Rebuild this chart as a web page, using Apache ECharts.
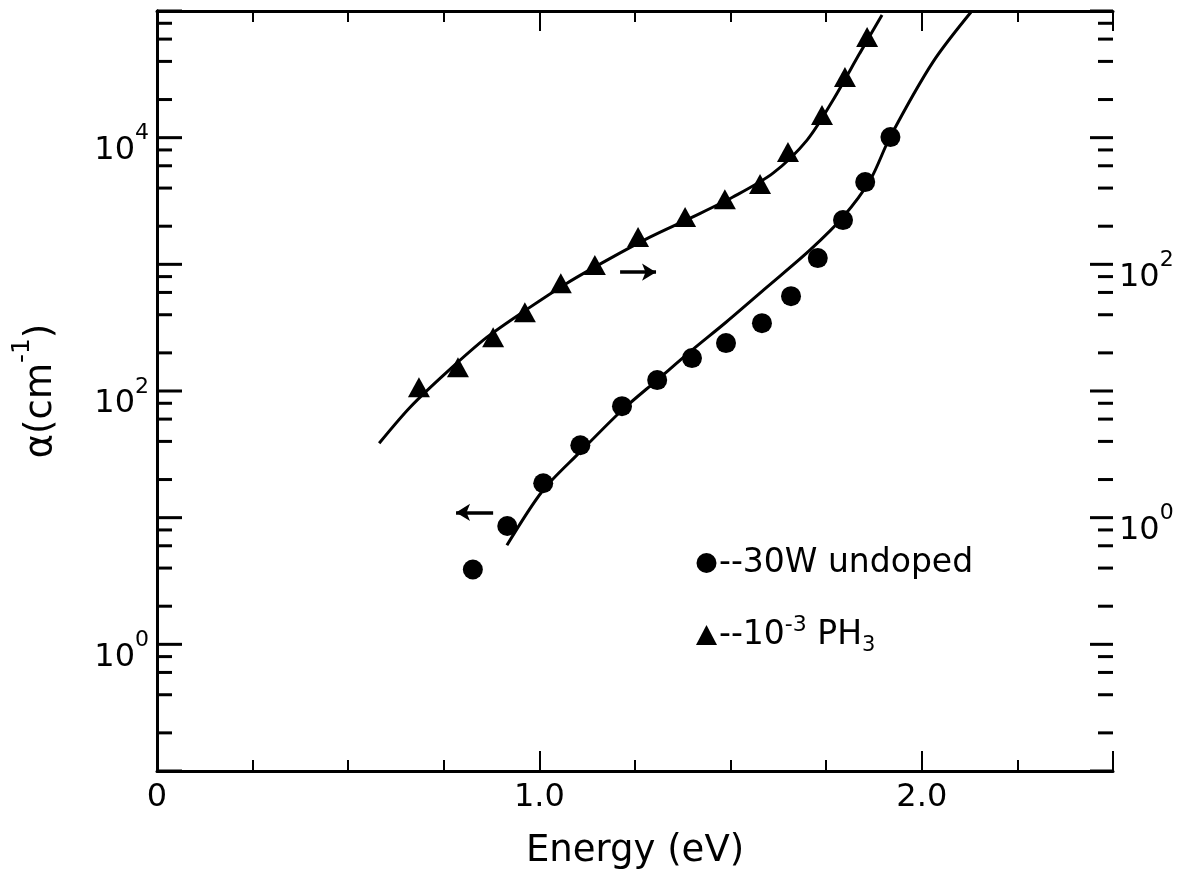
<!DOCTYPE html>
<html>
<head>
<meta charset="utf-8">
<script src="https://cdn.jsdelivr.net/npm/echarts@6/dist/echarts.min.js"></script>
<style>
  html, body { margin: 0; padding: 0; background: #fff; }
  #chart { width: 1180px; height: 882px; }
</style>
</head>
<body>
<div id="chart"></div>
<script>
// ---- Data ----
// 30W undoped (left axis, alpha in cm^-1)
const undopedEnergy = [0.826, 0.916, 1.010, 1.107, 1.216, 1.308, 1.399, 1.488, 1.582, 1.658, 1.728, 1.794, 1.852, 1.918];
const undopedAlpha  = [3.9, 8.6, 18.7, 37.3, 75.9, 122, 182, 239, 343, 561, 1120, 2234, 4460, 10100];
// fitted curve through undoped points
const undopedFitEnergy = [0.915, 1.009, 1.106, 1.216, 1.308, 1.399, 1.488, 1.595, 1.708, 1.794, 1.865, 1.917, 2.029, 2.131];
const undopedFitAlpha  = [6.05, 16.4, 32.9, 70.5, 122, 210, 349, 661, 1300, 2362, 4624, 10100, 39500, 100000];

// 10^-3 PH3 doped (right axis)
const dopedEnergy = [0.685, 0.787, 0.879, 0.962, 1.056, 1.145, 1.258, 1.381, 1.485, 1.577, 1.650, 1.739, 1.799, 1.857];
const dopedAlpha  = [10.7, 15.4, 26.6, 41.9, 71, 98.6, 164, 236, 327, 430, 769, 1510, 3010, 6230];
// fitted curve through doped points
const dopedFitEnergy = [0.581, 0.662, 0.758, 0.863, 0.968, 1.072, 1.177, 1.289, 1.400, 1.506, 1.611, 1.700, 1.768, 1.838, 1.896];
const dopedFitAlpha  = [3.87, 7.45, 14.1, 26.6, 44.3, 71, 108, 164, 236, 340, 525, 957, 1983, 4650, 9300];

// axis-indicator arrows (left-axis data space): [fromE, toE, alpha]
const arrowLeft  = [0.879, 0.782, 11.0];
const arrowRight = [1.211, 1.305, 867];

// tick labels
const xTickLabels = { '0': '0', '1': '1.0', '2': '2.0' };
const leftLabelExps = [0, 2, 4];
const rightLabelExps = [0, 2];
// log ticks on the left-axis scale; the right axis (= left / 10) shares the same positions
const majorTickValues = [0.1, 1, 10, 100, 1000, 10000, 100000];
const minorTickValues = [0.2, 0.4, 0.6, 0.8, 2, 4, 6, 8, 20, 40, 60, 80, 200, 400, 600, 800,
  2000, 4000, 6000, 8000, 20000, 40000, 60000, 80000];

// ---- Chart ----
const FONT = 'DejaVu Sans';
const BLACK = '#000';
const chart = echarts.init(document.getElementById('chart'));

function zip(a, b) { return a.map((v, i) => [v, b[i]]); }

function powLabel(v, exps) {
  const e = Math.round(Math.log10(v));
  if (Math.abs(Math.log10(v) - e) > 1e-6) return '';
  return exps.indexOf(e) >= 0 ? '{b|10}{s|' + e + '}' : '';
}
const powRich = {
  b: { fontSize: 32, fontFamily: FONT, color: BLACK, lineHeight: 44, verticalAlign: 'bottom' },
  s: { fontSize: 22, fontFamily: FONT, color: BLACK, lineHeight: 22, verticalAlign: 'top' }
};

const xAxisBase = {
  type: 'value', min: 0, max: 2.5, interval: 0.25,
  splitLine: { show: false },
  axisLine: { lineStyle: { color: BLACK, width: 3 } },
  axisTick: { inside: true, length: 11, lineStyle: { color: BLACK, width: 2 } }
};

const tickData = majorTickValues.map(v => [0, v, 1]).concat(minorTickValues.map(v => [0, v, 0]));

const option = {
  animation: false,
  backgroundColor: '#fff',
  textStyle: { fontFamily: FONT, color: BLACK },
  grid: { left: 157, right: 67, top: 11, bottom: 111, containLabel: false },
  xAxis: [
    Object.assign({}, xAxisBase, {
      position: 'bottom',
      axisLabel: {
        color: BLACK, fontSize: 32, fontFamily: FONT, margin: 11,
        formatter: v => (xTickLabels[String(v)] || '')
      },
      name: 'Energy (eV)', nameLocation: 'middle', nameGap: 62,
      nameTextStyle: { fontSize: 37, fontFamily: FONT, color: BLACK }
    }),
    Object.assign({}, xAxisBase, { position: 'top', axisLabel: { show: false } }),
    { type: 'value', min: 0, max: 2.5, interval: 1, position: 'bottom',
      splitLine: { show: false }, axisLine: { show: false }, axisLabel: { show: false },
      axisTick: { inside: true, length: 20, lineStyle: { color: BLACK, width: 2 } } },
    { type: 'value', min: 0, max: 2.5, interval: 1, position: 'top',
      splitLine: { show: false }, axisLine: { show: false }, axisLabel: { show: false },
      axisTick: { inside: true, length: 20, lineStyle: { color: BLACK, width: 2 } } }
  ],
  yAxis: [
    {
      type: 'log', logBase: 10, min: 0.1, max: 100000, splitNumber: 6, position: 'left',
      splitLine: { show: false },
      axisLine: { lineStyle: { color: BLACK, width: 3 } },
      axisTick: { show: false },
      axisLabel: {
        margin: 8, padding: [14, 0, 0, 0],
        formatter: v => powLabel(v, leftLabelExps), rich: powRich
      },
      name: '{a|α(cm}{s|-1}{a|)}', nameLocation: 'middle', nameGap: 97, nameRotate: 90,
      nameTextStyle: {
        rich: {
          a: { fontSize: 37, fontFamily: FONT, color: BLACK, lineHeight: 50, verticalAlign: 'bottom' },
          s: { fontSize: 25, fontFamily: FONT, color: BLACK, lineHeight: 26, verticalAlign: 'top' }
        }
      }
    },
    {
      type: 'log', logBase: 10, min: 0.01, max: 10000, splitNumber: 6, position: 'right',
      splitLine: { show: false },
      axisLine: { lineStyle: { color: BLACK, width: 3 } },
      axisTick: { show: false },
      axisLabel: {
        margin: 6, padding: [14, 0, 0, 0],
        formatter: v => powLabel(v, rightLabelExps), rich: powRich
      }
    }
  ],
  legend: {
    orient: 'vertical', left: 691, top: 537, itemWidth: 21, itemHeight: 20, itemGap: 30,
    selectedMode: false,
    data: [
      { name: '30W undoped', icon: 'circle' },
      { name: '10-3 PH3', icon: 'triangle' }
    ],
    formatter: n => n === '30W undoped' ? '--30W undoped' : '--10{sup|-3} PH{sub|3}',
    textStyle: {
      fontSize: 33, fontFamily: FONT, color: BLACK, lineHeight: 42, padding: [0, 0, 0, -3],
      rich: {
        sup: { fontSize: 22, fontFamily: FONT, color: BLACK, lineHeight: 20, verticalAlign: 'top' },
        sub: { fontSize: 21, fontFamily: FONT, color: BLACK, lineHeight: 20, verticalAlign: 'bottom' }
      }
    }
  },
  series: [
    {
      name: 'undopedFit', type: 'line', xAxisIndex: 0, yAxisIndex: 0,
      data: zip(undopedFitEnergy, undopedFitAlpha), smooth: 0.3, showSymbol: false,
      lineStyle: { color: BLACK, width: 3 }, silent: true, clip: true, z: 3
    },
    {
      name: 'dopedFit', type: 'line', xAxisIndex: 0, yAxisIndex: 1,
      data: zip(dopedFitEnergy, dopedFitAlpha), smooth: 0.3, showSymbol: false,
      lineStyle: { color: BLACK, width: 3 }, silent: true, clip: true, z: 3
    },
    {
      name: '30W undoped', type: 'scatter', xAxisIndex: 0, yAxisIndex: 0,
      data: zip(undopedEnergy, undopedAlpha), symbol: 'circle', symbolSize: 20,
      itemStyle: { color: BLACK, opacity: 1 }, z: 4,
      markLine: {
        silent: true, symbol: ['none', 'arrow'], symbolSize: [13, 14],
        lineStyle: { color: BLACK, width: 3.5, type: 'solid', opacity: 1 }, label: { show: false },
        data: [
          [{ coord: [arrowLeft[0], arrowLeft[2]] }, { coord: [arrowLeft[1], arrowLeft[2]] }],
          [{ coord: [arrowRight[0], arrowRight[2]] }, { coord: [arrowRight[1], arrowRight[2]] }]
        ]
      }
    },
    {
      name: '10-3 PH3', type: 'scatter', xAxisIndex: 0, yAxisIndex: 1,
      data: zip(dopedEnergy, dopedAlpha), symbol: 'triangle', symbolSize: [22, 20],
      itemStyle: { color: BLACK, opacity: 1 }, z: 4
    },
    {
      name: 'yTicks', type: 'custom', xAxisIndex: 0, yAxisIndex: 0, silent: true, z: 5,
      data: tickData,
      renderItem: function (params, api) {
        const v = api.value(1);
        const major = api.value(2) === 1;
        const pL = api.coord([0, v]);
        const pR = api.coord([2.5, v]);
        const lenL = major ? 25 : 15;
        const lenR = major ? 23 : 15;
        return {
          type: 'group',
          children: [
            { type: 'line', shape: { x1: pL[0], y1: pL[1], x2: pL[0] + lenL, y2: pL[1] },
              style: { stroke: BLACK, lineWidth: 3 } },
            { type: 'line', shape: { x1: pR[0], y1: pR[1], x2: pR[0] - lenR, y2: pR[1] },
              style: { stroke: BLACK, lineWidth: 3 } }
          ]
        };
      }
    }
  ]
};
chart.setOption(option);
</script>
</body>
</html>
